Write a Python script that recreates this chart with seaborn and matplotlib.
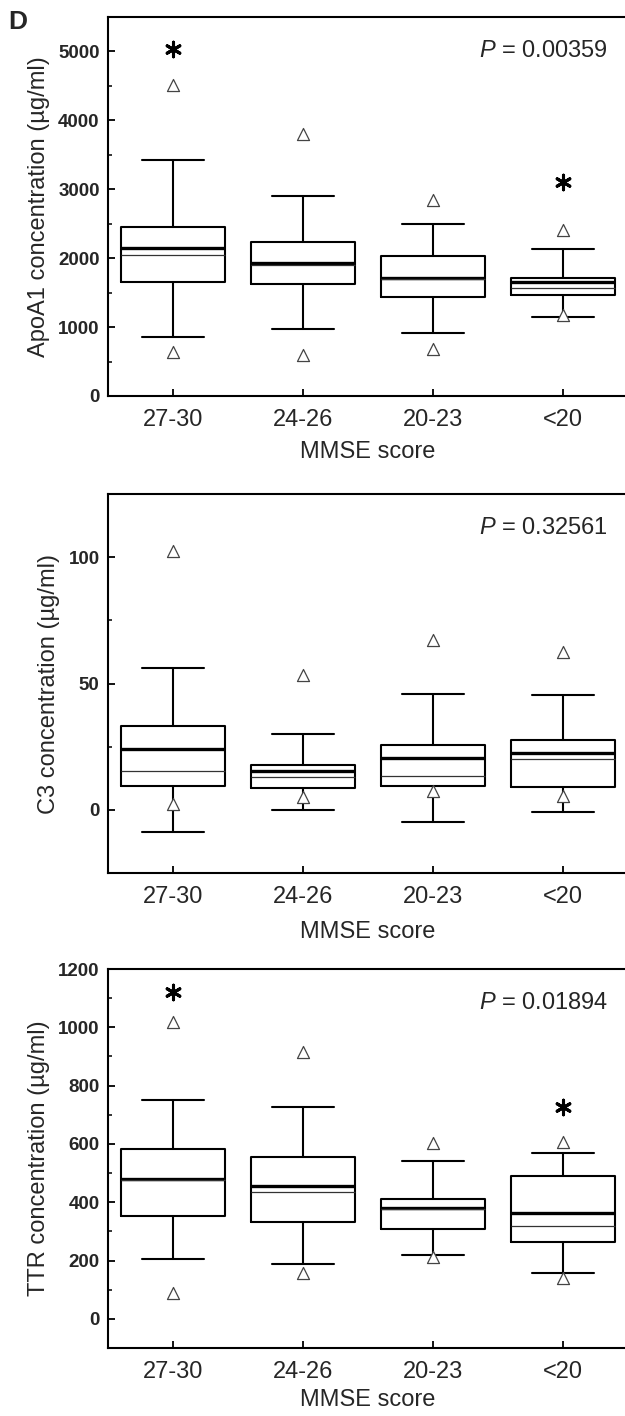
import numpy as np
import matplotlib.pyplot as plt
import seaborn as sns

groups = ["27-30", "24-26", "20-23", "<20"]

# ApoA1
apoa1_whislo = [860, 976, 918, 1150]
apoa1_q1 = [1657, 1628, 1435, 1459]
apoa1_med = [2150, 1937, 1715, 1652]
apoa1_mean = [2039, 1899, 1700, 1570]
apoa1_q3 = [2454, 2237, 2029, 1710]
apoa1_whishi = [3430, 2899, 2502, 2135]
apoa1_low = [643, 594, 676, 1169]
apoa1_high = [4517, 3807, 2850, 2415]
apoa1_star = [5030, np.nan, np.nan, 3110]

# C3
c3_whislo = [-8.6, 0.0, -4.9, -0.9]
c3_q1 = [9.4, 8.6, 9.4, 9.0]
c3_med = [23.9, 15.2, 20.4, 22.4]
c3_mean = [15.2, 12.9, 13.2, 20.1]
c3_q3 = [33.0, 17.9, 25.5, 27.7]
c3_whishi = [56.2, 30.2, 45.8, 45.5]
c3_low = [2.4, 5.0, 7.5, 5.3]
c3_high = [102.6, 53.4, 67.3, 62.4]
c3_star = [np.nan, np.nan, np.nan, np.nan]

# TTR
ttr_whislo = [204, 187, 218, 158]
ttr_q1 = [353, 333, 309, 263]
ttr_med = [479, 455, 381, 364]
ttr_mean = [475, 435, 377, 318]
ttr_q3 = [583, 555, 410, 489]
ttr_whishi = [751, 725, 543, 570]
ttr_low = [89, 156, 212, 141]
ttr_high = [1019, 914, 602, 605]
ttr_star = [1120, np.nan, np.nan, 728]

sns.set_style("ticks")
plt.rcParams['font.family'] = ['Liberation Sans', 'DejaVu Sans']
plt.rcParams['mathtext.fontset'] = 'custom'
plt.rcParams['mathtext.it'] = 'Liberation Sans:italic'
plt.rcParams['mathtext.rm'] = 'Liberation Sans'

fig = plt.figure(figsize=(6.25, 14.16), dpi=100)

left = 108 / 625
width = 520 / 625
panel_tops = [17, 494, 969]
panel_h = 379


def draw_panel(ax, whislo, q1, med, mean, q3, whishi, low, high, star,
               ylim, major, minor, ylabel, ptext, xpad):
    pos = np.arange(len(groups))
    stats = []
    for i in range(len(groups)):
        stats.append(dict(whislo=whislo[i], q1=q1[i], med=med[i], mean=mean[i],
                          q3=q3[i], whishi=whishi[i], fliers=[]))
    ax.bxp(stats, positions=pos, widths=0.8, showmeans=True, meanline=True,
           showfliers=False, patch_artist=False,
           boxprops=dict(color='black', linewidth=1.5),
           whiskerprops=dict(color='black', linewidth=1.5),
           capprops=dict(color='black', linewidth=1.5),
           medianprops=dict(color='black', linewidth=2.4),
           meanprops=dict(color='#333333', linestyle='-', linewidth=0.9),
           capwidths=0.47)
    # open triangles: lowest and highest values
    sns.scatterplot(x=np.concatenate([pos, pos]), y=np.concatenate([low, high]),
                    marker='^', s=75, color='white', edgecolor='#444444',
                    linewidth=0.9, zorder=5, ax=ax)
    sns.scatterplot(x=pos, y=star, marker=(6, 2, 0), s=110, color='black',
                    linewidth=2.2, zorder=5, ax=ax)
    ax.set_xlim(-0.5, 3.5)
    ax.set_ylim(*ylim)
    ax.set_xticks(pos)
    ax.set_xticklabels(groups, fontsize=17)
    ax.set_yticks(major)
    ax.set_yticks(minor, minor=True)
    ax.set_yticklabels([str(v) for v in major], fontsize=13.5, fontweight='bold')
    ax.tick_params(axis='both', which='major', direction='in', length=5,
                   width=1.3, color='black')
    ax.tick_params(axis='y', which='minor', direction='in', length=3,
                   width=1.1, color='black')
    ax.tick_params(axis='x', which='major', pad=9.5)
    ax.tick_params(axis='y', which='major', pad=6)
    for sp in ax.spines.values():
        sp.set_linewidth(1.5)
        sp.set_color('black')
    ax.set_xlabel("MMSE score", fontsize=17, labelpad=xpad)
    ax.set_ylabel(ylabel, fontsize=17, labelpad=6)
    ax.text(500 / 520, 0.91, ptext, transform=ax.transAxes, ha='right',
            va='center', fontsize=17)


panels = [
    (apoa1_whislo, apoa1_q1, apoa1_med, apoa1_mean, apoa1_q3, apoa1_whishi,
     apoa1_low, apoa1_high, apoa1_star, (0, 5500),
     [0, 1000, 2000, 3000, 4000, 5000], np.arange(500, 5500, 1000),
     "ApoA1 concentration (µg/ml)", "$P$ = 0.00359", 7),
    (c3_whislo, c3_q1, c3_med, c3_mean, c3_q3, c3_whishi,
     c3_low, c3_high, c3_star, (-25, 125),
     [0, 50, 100], [-25, 25, 75],
     "C3 concentration (µg/ml)", "$P$ = 0.32561", 9),
    (ttr_whislo, ttr_q1, ttr_med, ttr_mean, ttr_q3, ttr_whishi,
     ttr_low, ttr_high, ttr_star, (-100, 1200),
     [0, 200, 400, 600, 800, 1000, 1200], np.arange(100, 1200, 200),
     "TTR concentration (µg/ml)", "$P$ = 0.01894", 4),
]

for top, p in zip(panel_tops, panels):
    bottom = 1 - (top + panel_h) / 1416
    ax = fig.add_axes([left, bottom, width, panel_h / 1416])
    draw_panel(ax, *p)

fig.text(8 / 625, 1 - 10 / 1416, "D", fontsize=19, fontweight='bold',
         ha='left', va='top')

fig.savefig("out.png", dpi=100)
